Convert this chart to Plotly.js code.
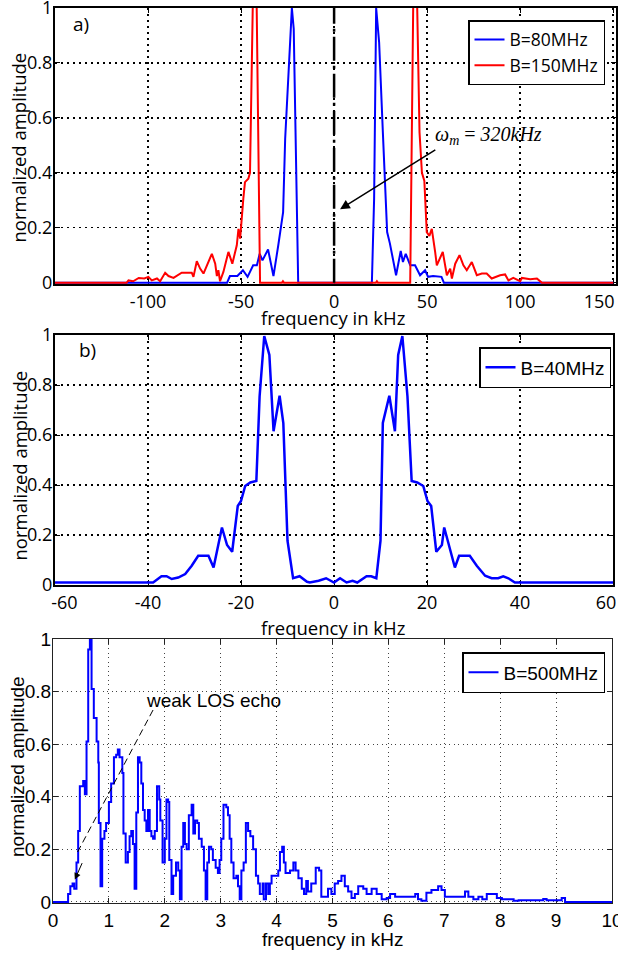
<!DOCTYPE html>
<html><head><meta charset="utf-8">
<script src="https://cdn.plot.ly/plotly-3.0.1.min.js"></script>
<style>body{margin:0;padding:0;background:#fff}#chart{width:618px;height:955px}</style>
</head><body><div id="chart"></div>
<script>
// ---------- Panel a) data (frequency in kHz, normalized amplitude) ----------
const a80x = [-150,-57.5,-56,-52,-49,-46.5,-43.5,-41.5,-40,-38.5,-35.5,-32.6,-30,-29,-27.4,-26.3,-24.5,-22.7,-21.7,-19.3,
  20.3,21.5,22.6,24.2,26.2,28.5,30,33.3,35.8,37,38.5,40.9,43.5,46.2,48.9,50.5,53.2,57.7,59,150];
const a80y = [0,0,0.024,0.024,0.045,0.021,0.063,0.063,0.105,0.081,0.121,0.024,0.136,0.184,0.257,0.524,0.79,1.0,0.924,0,
  0,0.305,1.0,0.875,0.548,0.184,0.142,0.027,0.115,0.075,0.105,0.063,0.063,0.027,0.045,0.021,0.024,0.021,0,0];
const a150x = [-150,-111.5,-110.5,-108,-105,-102,-99.8,-98,-95.2,-93.5,-90.8,-89,-86.3,-81.9,-76.5,-75.6,-73.8,-72,-70.2,-68.4,
  -65.7,-63.9,-63,-62.2,-61.3,-59.5,-56.8,-54.7,-52.3,-51.4,-50.5,-48.8,-47.9,-46.1,-45.2,-42.5,-39.8,-28,-27.5,-27,
  22.5,23,23.5,40.9,43.3,45.9,47.2,48.5,49.8,51.2,52.5,54.3,55.2,58.4,60.6,62.4,63.3,65.1,67.4,69.5,71.3,74,76.7,79.4,
  82,84.7,87.4,89.2,91.9,93.7,96.3,100,100.9,105.4,109,111.6,150];
const a150y = [0,0,0.008,0.005,0.017,0.015,0.021,0.008,0.015,0.005,0.036,0.024,0.017,0.036,0.036,0.021,0.078,0.051,0.033,0.063,
  0.105,0.069,0.024,0.045,0.005,0.039,0.112,0.069,0.136,0.196,0.16,0.305,0.366,0.378,0.40,1.5,0,0,0.005,0,
  0,0.005,0,0,1.5,0.548,0.40,0.37,0.184,0.17,0.196,0.112,0.063,0.112,0.027,0.051,0.015,0.069,0.1,0.063,0.045,0.075,0.027,0.033,
  0.033,0.015,0.021,0.027,0.03,0.008,0.017,0.005,0.017,0.012,0.015,0,0];
const omegaX = [0, 0];
const omegaY = [0, 1];
const aTicks = [-100, -50, 0, 50, 100, 150];
const aTickText = ['-100', '-50', '0', '50', '100', '150\u00a0\u00a0\u00a0\u00a0\u00a0\u00a0'];

// ---------- Panel b) data ----------
const b40x = [-60,-38.9,-37.1,-36.0,-34.9,-33.5,-32.0,-30.6,-29.2,-27.0,-25.9,-24.1,-23.0,-21.9,-20.7,-20.0,-19.1,-18.0,-16.7,-16.0,
  -15.0,-13.9,-13.0,-11.7,-10.9,-10.0,-8.8,-7.4,-5.8,-5.2,-3.3,-1.7,0,1.3,2.7,4.0,5.0,7.0,8.0,9.1,
  10.0,10.5,11.9,13.1,13.8,14.7,15.8,16.7,17.9,19.2,20.1,20.9,22.0,23.2,23.7,26.0,26.9,29.2,30.7,32.5,
  33.9,35.3,36.4,37.5,38.9,60];
const b40y = [0.01,0.01,0.035,0.035,0.024,0.03,0.044,0.077,0.117,0.117,0.07,0.23,0.16,0.133,0.316,0.336,0.396,0.41,0.416,0.754,
  0.996,0.92,0.615,0.757,0.648,0.177,0.027,0.035,0.013,0.01,0.017,0.027,0.01,0.027,0.01,0.017,0.01,0.035,0.035,0.027,
  0.177,0.648,0.757,0.615,0.92,0.996,0.754,0.416,0.41,0.396,0.336,0.316,0.133,0.16,0.23,0.07,0.117,0.117,0.077,0.037,
  0.027,0.027,0.035,0.027,0.01,0.01];
const bTicks = [-60, -40, -20, 0, 20, 40, 60];
const bTickText = ['\u00a0\u00a0\u00a0\u00a0-60', '-40', '-20', '0', '20', '40', '60\u00a0\u00a0\u00a0'];

// ---------- Panel c) data ----------
const c500x = [0,0.27,0.31,0.35,0.38,0.42,0.45,0.48,0.54,0.57,0.60,0.63,0.66,0.69,0.73,0.78,0.81,0.82,0.85,0.88,
  0.92,0.95,1.00,1.04,1.09,1.13,1.16,1.19,1.24,1.26,1.30,1.34,1.37,1.40,1.43,1.46,1.49,1.52,1.55,1.58,
  1.61,1.64,1.67,1.70,1.73,1.76,1.79,1.82,1.86,1.90,1.92,1.96,2.00,2.03,2.06,2.08,2.12,2.15,2.20,2.24,
  2.27,2.30,2.33,2.36,2.39,2.43,2.48,2.51,2.54,2.58,2.61,2.66,2.70,2.73,2.76,2.79,2.83,2.86,2.91,2.95,
  2.98,3.01,3.05,3.10,3.13,3.16,3.19,3.23,3.28,3.31,3.34,3.37,3.41,3.45,3.49,3.53,3.58,3.63,3.67,3.70,
  3.75,3.77,3.81,3.85,3.88,3.91,3.99,4.03,4.06,4.10,4.13,4.16,4.24,4.30,4.34,4.39,4.45,4.49,4.53,4.56,
  4.62,4.70,4.76,4.80,4.86,4.92,4.98,5.04,5.10,5.16,5.22,5.28,5.34,5.40,5.46,5.55,5.61,5.70,5.79,5.88,
  5.97,6.03,6.12,6.21,6.30,6.39,6.48,6.53,6.59,6.68,6.77,6.89,6.95,7.01,7.16,7.28,7.37,7.43,7.52,7.61,
  7.68,7.76,7.85,7.94,8.03,8.15,8.24,8.33,8.44,8.59,8.77,8.83,9.01,9.10,9.16,10];
const c500y = [0,0.03,0.06,0.07,0.05,0.15,0.27,0.44,0.46,0.41,0.61,0.96,1.0,0.81,0.70,0.61,0.53,0.30,0.06,0.24,
  0.27,0.30,0.38,0.45,0.55,0.56,0.58,0.55,0.49,0.26,0.15,0.19,0.25,0.27,0.22,0.05,0.34,0.55,0.53,0.45,
  0.35,0.31,0.27,0.35,0.27,0.25,0.24,0.27,0.44,0.39,0.31,0.15,0.24,0.39,0.38,0.16,0.03,0.10,0.15,0.12,
  0.01,0.21,0.30,0.22,0.20,0.33,0.37,0.26,0.31,0.30,0.24,0.21,0.12,0.01,0.15,0.21,0.20,0.16,0.13,0.11,
  0.16,0.24,0.37,0.36,0.33,0.24,0.15,0.09,0.10,0.06,0.01,0.12,0.15,0.30,0.27,0.25,0.20,0.10,0.07,0.03,
  0.07,0.01,0.07,0.03,0.07,0.10,0.10,0.12,0.19,0.21,0.15,0.11,0.12,0.15,0.12,0.09,0.05,0.03,0.08,0.04,
  0.07,0.13,0.12,0.02,0.02,0.05,0.03,0.07,0.08,0.10,0.06,0.04,0.015,0.03,0.06,0.05,0.03,0.05,0.03,0.01,
  0.015,0.03,0.02,0.02,0.02,0.02,0.03,0.01,0.005,0.035,0.045,0.06,0.045,0.02,0.02,0.02,0.04,0.02,0.01,0.02,
  0.01,0.03,0.03,0.015,0.01,0.01,0.005,0.006,0.006,0.006,0.011,0.006,0.006,0.015,0,0];
const cTicks = [0,1,2,3,4,5,6,7,8,9,10];
const yTicks = [0, 0.2, 0.4, 0.6, 0.8, 1];
const yTickText = ['0', '0.2', '0.4', '0.6', '0.8', '1'];

// ---------- layout helpers ----------
const W = 618, H = 955, L = 53, R = 2, T = 8, B = 52;
const pw = W - L - R, ph = H - T - B;
const dx = (a, b) => [Math.max(0,(a - L) / pw), Math.min(1,(b - L) / pw)];
const dy = (top, bot) => [Math.max(0,(H - B - bot) / ph), Math.min(1,(H - B - top) / ph)];
const px = v => (v - L) / pw;
const py = v => (H - B - v) / ph;

const FA = 'Open Sans, sans-serif';
const FB = 'Liberation Sans, Arial, sans-serif';

function axisAB(extra) {
  return Object.assign({
    showline: true, linecolor: 'black', linewidth: 2, mirror: 'ticks',
    ticks: 'inside', ticklen: 5, tickwidth: 1, tickcolor: 'black',
    showgrid: true, gridcolor: 'black', gridwidth: 1.5, griddash: '1.5px,4.5px',
    zeroline: false, layer: 'below traces', ticklabeloverflow: 'allow',
    tickfont: {family: FA, size: 18, color: 'black'}
  }, extra);
}
function axisC(extra) {
  return Object.assign({
    showline: true, linecolor: '#222', linewidth: 1, mirror: 'ticks',
    ticks: 'inside', ticklen: 5, tickwidth: 1, tickcolor: '#222',
    showgrid: true, gridcolor: '#444', gridwidth: 1, griddash: '1px,3.5px',
    zeroline: false, layer: 'below traces', ticklabeloverflow: 'allow',
    tickfont: {family: FB, size: 19, color: 'black'}
  }, extra);
}

const traces = [
  {x: a80x, y: a80y, mode: 'lines', name: 'B=80MHz', line: {color: '#0000ff', width: 2}, xaxis: 'x', yaxis: 'y', legend: 'legend'},
  {x: a150x, y: a150y, mode: 'lines', name: 'B=150MHz', line: {color: '#ff0000', width: 2}, xaxis: 'x', yaxis: 'y', legend: 'legend'},
  {x: omegaX, y: omegaY, mode: 'lines', showlegend: false, line: {color: 'black', width: 2.5, dash: '24px,5px,3px,5px'}, xaxis: 'x', yaxis: 'y'},
  {x: b40x, y: b40y, mode: 'lines', name: 'B=40MHz', line: {color: '#0000ff', width: 2.5}, xaxis: 'x2', yaxis: 'y2', legend: 'legend2'},
  {x: c500x, y: c500y, mode: 'lines', name: 'B=500MHz', line: {color: '#0000ff', width: 2, shape: 'hv'}, xaxis: 'x3', yaxis: 'y3', legend: 'legend3'}
];

const legBase = {bgcolor: 'white', bordercolor: 'black', borderwidth: 1.5, itemwidth: 30, tracegroupgap: 0, xanchor: 'right', yanchor: 'top'};
const tA = {family: FA, size: 18.5, color: 'black'};
const tC = {family: FB, size: 19, color: 'black'};
const ctr = {xref: 'paper', yref: 'paper', xanchor: 'center', yanchor: 'middle', showarrow: false};

const layout = {
  width: W, height: H,
  margin: {l: L, r: R, t: T, b: B},
  paper_bgcolor: 'white', plot_bgcolor: 'white',
  showlegend: true,
  xaxis: axisAB({domain: dx(55, 616), anchor: 'y', range: [-150, 151.5], tickvals: aTicks, ticktext: aTickText}),
  yaxis: axisAB({domain: dy(8, 284), anchor: 'x', range: [-0.005, 1], tickvals: yTicks, ticktext: yTickText, ticklabelstandoff: -3}),
  xaxis2: axisAB({domain: dx(55, 613), anchor: 'y2', range: [-60, 60], tickvals: bTicks, ticktext: bTickText}),
  yaxis2: axisAB({domain: dy(335, 585), anchor: 'x2', range: [0, 1], tickvals: yTicks, ticktext: yTickText, ticklabelstandoff: -3}),
  xaxis3: axisC({domain: dx(53, 612), anchor: 'y3', range: [0, 10], tickvals: cTicks}),
  yaxis3: axisC({domain: dy(639, 903), anchor: 'x3', range: [-0.004, 1], tickvals: yTicks, ticktext: yTickText, ticklabelstandoff: -3}),
  legend: Object.assign({}, legBase, {x: px(605), y: py(20), font: {family: FA, size: 17.5, color: 'black'}}),
  legend2: Object.assign({}, legBase, {x: px(611), y: py(347), font: {family: FB, size: 19, color: 'black'}}),
  legend3: Object.assign({}, legBase, {x: px(605), y: py(652), font: {family: FB, size: 19, color: 'black'}}),
  shapes: [
    {type: 'line', xref: 'x3', yref: 'y3', x0: 1.79, y0: 0.73, x1: 0.44, y1: 0.19,
     line: {color: 'black', width: 1, dash: '7px,4px'}}
  ],
  annotations: [
    // axis titles
    Object.assign({x: px(333), y: py(318), text: 'frequency in kHz', font: tA}, ctr),
    Object.assign({x: px(333), y: py(628), text: 'frequency in kHz', font: tA}, ctr),
    Object.assign({x: px(333), y: py(939), text: 'frequency in kHz', font: tC}, ctr),
    Object.assign({x: px(18.5), y: py(148), text: 'normalized amplitude', textangle: -90, font: tA}, ctr),
    Object.assign({x: px(18.5), y: py(466), text: 'normalized amplitude', textangle: -90, font: tA}, ctr),
    Object.assign({x: px(17), y: py(767), text: 'normalized amplitude', textangle: -90, font: tC}, ctr),
    // panel labels and notes
    {xref: 'x', yref: 'y', x: -136, y: 0.94, text: 'a)', showarrow: false, font: {family: FA, size: 19, color: 'black'}},
    {xref: 'x2', yref: 'y2', x: -53, y: 0.94, text: 'b)', showarrow: false, font: {family: FA, size: 19, color: 'black'}},
    {xref: 'x', yref: 'y', x: 53, y: 0.535, xanchor: 'left', showarrow: false,
     text: '<i>ω<sub>m</sub></i> = <i>320kHz</i>', font: {family: 'Liberation Serif, Times New Roman, serif', size: 20, color: 'black'}},
    {xref: 'x', yref: 'y', axref: 'x', ayref: 'y', x: 3.2, y: 0.267, ax: 55.2, ay: 0.487, text: '',
     showarrow: true, arrowhead: 2, arrowsize: 1.3, arrowwidth: 1.5, arrowcolor: 'black'},
    {xref: 'x3', yref: 'y3', x: 1.62, y: 0.765, xanchor: 'left', showarrow: false,
     text: 'weak LOS echo', font: tC},
    {xref: 'x3', yref: 'y3', x: 0.39, y: 0.085, ax: 8, ay: -18, text: '',
     showarrow: true, arrowhead: 2, arrowsize: 1.3, arrowwidth: 1, arrowcolor: 'black'}
  ]
};

Plotly.newPlot('chart', traces, layout, {staticPlot: true, displayModeBar: false});
</script>
</body></html>
